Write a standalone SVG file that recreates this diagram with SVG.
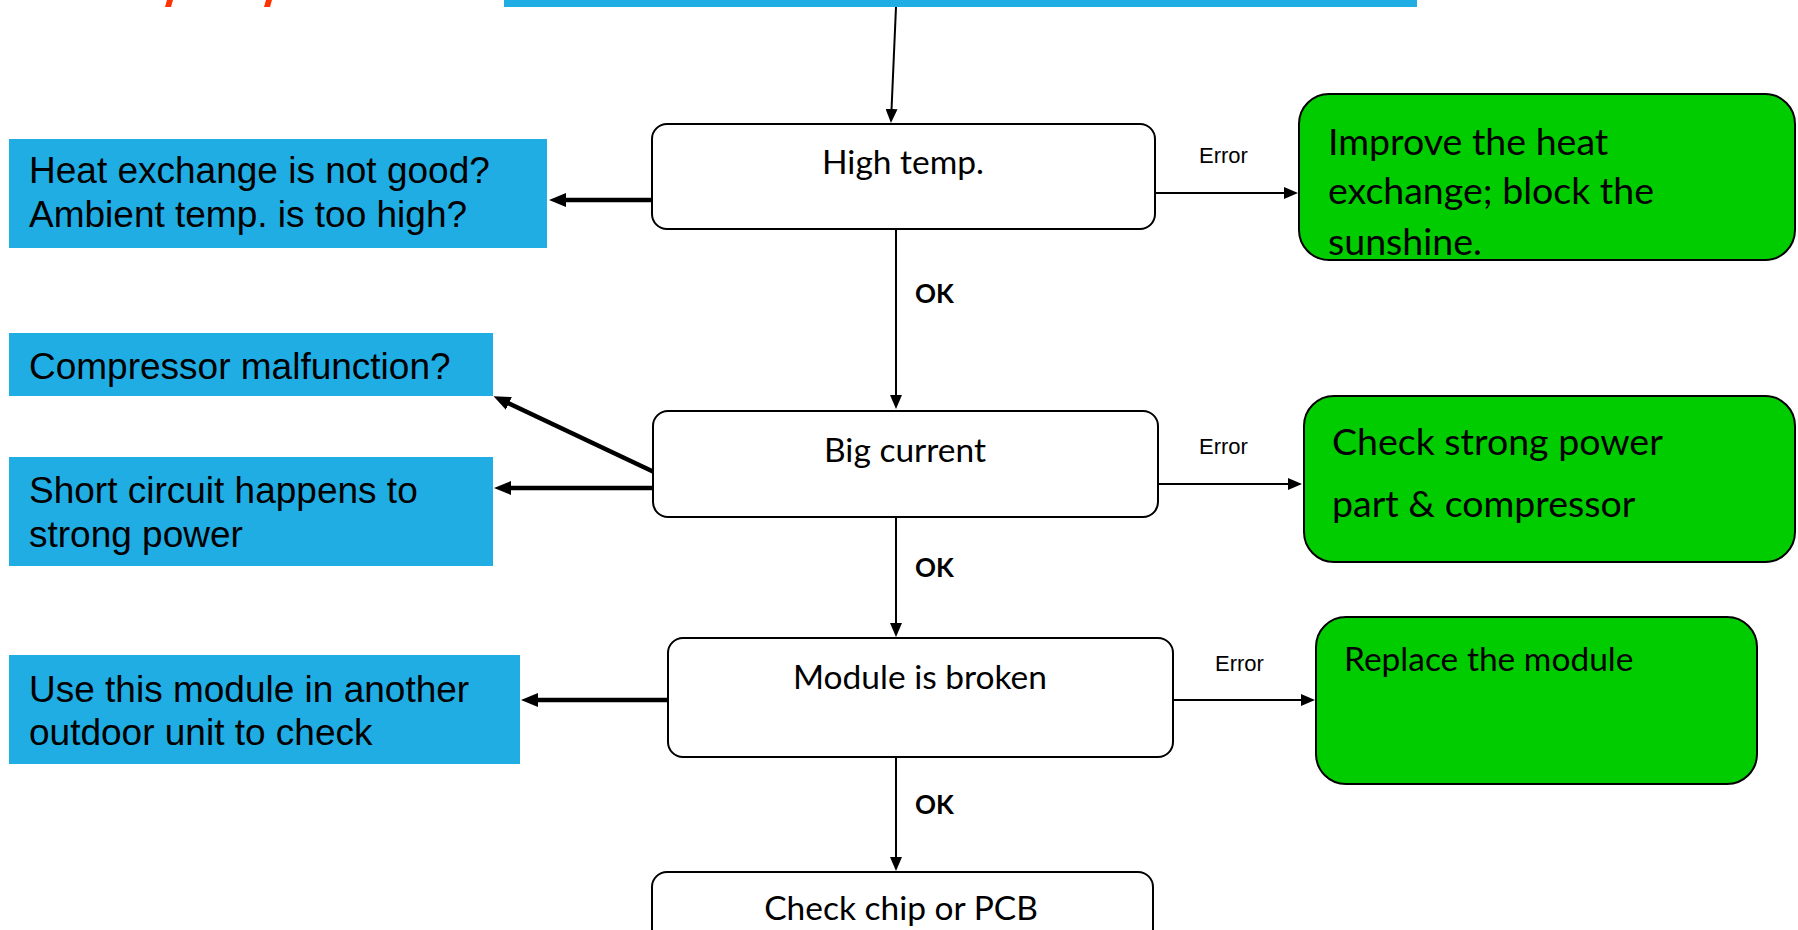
<svg xmlns="http://www.w3.org/2000/svg" width="1798" height="930" viewBox="0 0 1798 930">
<style>
.blue{fill:#1fade4}
.node{fill:#ffffff;stroke:#000;stroke-width:2}
.green{fill:#00cc00;stroke:#000;stroke-width:2}
.nt{font-family:Lato,"Noto Sans",sans-serif;font-size:33.5px;fill:#000;text-anchor:middle}
.gt{font-family:Lato,"Noto Sans",sans-serif;font-size:37.5px;fill:#000}
.bt{font-family:"Liberation Sans",Arial,sans-serif;font-size:37px;fill:#000}
.err{font-family:"Liberation Sans",Arial,sans-serif;font-size:22px;fill:#000}
.ok{font-family:Lato,"Noto Sans",sans-serif;font-size:26px;font-weight:bold;fill:#000}
.thin{fill:none;stroke:#000;stroke-width:2}
.thick{fill:none;stroke:#000;stroke-width:4.5}
</style>
<defs>
<marker id="ah" markerUnits="userSpaceOnUse" markerWidth="14" markerHeight="12" refX="1" refY="6" orient="auto"><path d="M0,0 L14,6 L0,12 z" fill="#000"/></marker>
<marker id="ahb" markerUnits="userSpaceOnUse" markerWidth="17" markerHeight="15" refX="1" refY="7" orient="auto"><path d="M0,0 L17,7 L0,14 z" fill="#000"/></marker>
</defs>
<rect width="1798" height="930" fill="#ffffff"/>
<g id="title-fragments" fill="#ff3300">
<polygon points="167,0 173,0 171,7 165,7"/>
<polygon points="266,0 272,0 270,7 264,7"/>
</g>
<g id="top-bar"><rect class="blue" x="504" y="0" width="913" height="7"/></g>
<g id="connectors">
<path class="thin" d="M896,7 L891.5,110" marker-end="url(#ah)"/>
<path class="thin" d="M896,229 L896,396" marker-end="url(#ah)"/>
<path class="thin" d="M896,517 L896,624" marker-end="url(#ah)"/>
<path class="thin" d="M896,757 L896,858" marker-end="url(#ah)"/>
<path class="thin" d="M1155,193 L1285,193" marker-end="url(#ah)"/>
<path class="thin" d="M1158,484 L1289,484" marker-end="url(#ah)"/>
<path class="thin" d="M1173,700 L1302,700" marker-end="url(#ah)"/>
<path class="thick" d="M654,200 L565,200" marker-end="url(#ahb)"/>
<path class="thick" d="M654,472 L508,403" marker-end="url(#ahb)"/>
<path class="thick" d="M654,488 L510,488" marker-end="url(#ahb)"/>
<path class="thick" d="M670,700 L537,700" marker-end="url(#ahb)"/>
<text class="ok" x="915" y="303">OK</text>
<text class="ok" x="915" y="577">OK</text>
<text class="ok" x="915" y="814">OK</text>
<text class="err" x="1199" y="163">Error</text>
<text class="err" x="1199" y="454">Error</text>
<text class="err" x="1215" y="671">Error</text>
</g>
<g id="high-temp"><rect class="node" x="652" y="124" width="503" height="105" rx="15"/><text class="nt" x="903" y="174">High temp.</text></g>
<g id="big-current"><rect class="node" x="653" y="411" width="505" height="106" rx="15"/><text class="nt" x="905" y="462">Big current</text></g>
<g id="module-broken"><rect class="node" x="668" y="638" width="505" height="119" rx="15"/><text class="nt" x="920" y="689">Module is broken</text></g>
<g id="check-chip"><rect class="node" x="652" y="872" width="501" height="80" rx="15"/><text class="nt" x="901" y="920">Check chip or PCB</text></g>
<g id="heat-exchange"><rect class="blue" x="9" y="139" width="538" height="109"/><text class="bt" x="29" y="183">Heat exchange is not good?</text><text class="bt" x="29" y="227">Ambient temp. is too high?</text></g>
<g id="compressor"><rect class="blue" x="9" y="333" width="484" height="63"/><text class="bt" x="29" y="379">Compressor malfunction?</text></g>
<g id="short-circuit"><rect class="blue" x="9" y="457" width="484" height="109"/><text class="bt" x="29" y="503">Short circuit happens to</text><text class="bt" x="29" y="547">strong power</text></g>
<g id="use-module"><rect class="blue" x="9" y="655" width="511" height="109"/><text class="bt" x="29" y="702">Use this module in another</text><text class="bt" x="29" y="745">outdoor unit to check</text></g>
<g id="improve"><rect class="green" x="1299" y="94" width="496" height="166" rx="30"/><text class="gt" x="1328" y="155">Improve the heat</text><text class="gt" x="1328" y="204">exchange; block the</text><text class="gt" x="1328" y="255">sunshine.</text></g>
<g id="check-strong"><rect class="green" x="1304" y="396" width="491" height="166" rx="30"/><text class="gt" x="1332" y="455">Check strong power</text><text class="gt" x="1332" y="517">part &amp; compressor</text></g>
<g id="replace"><rect class="green" x="1316" y="617" width="441" height="167" rx="30"/><text class="gt" x="1344" y="671" style="font-size:33.5px">Replace the module</text></g>
</svg>
